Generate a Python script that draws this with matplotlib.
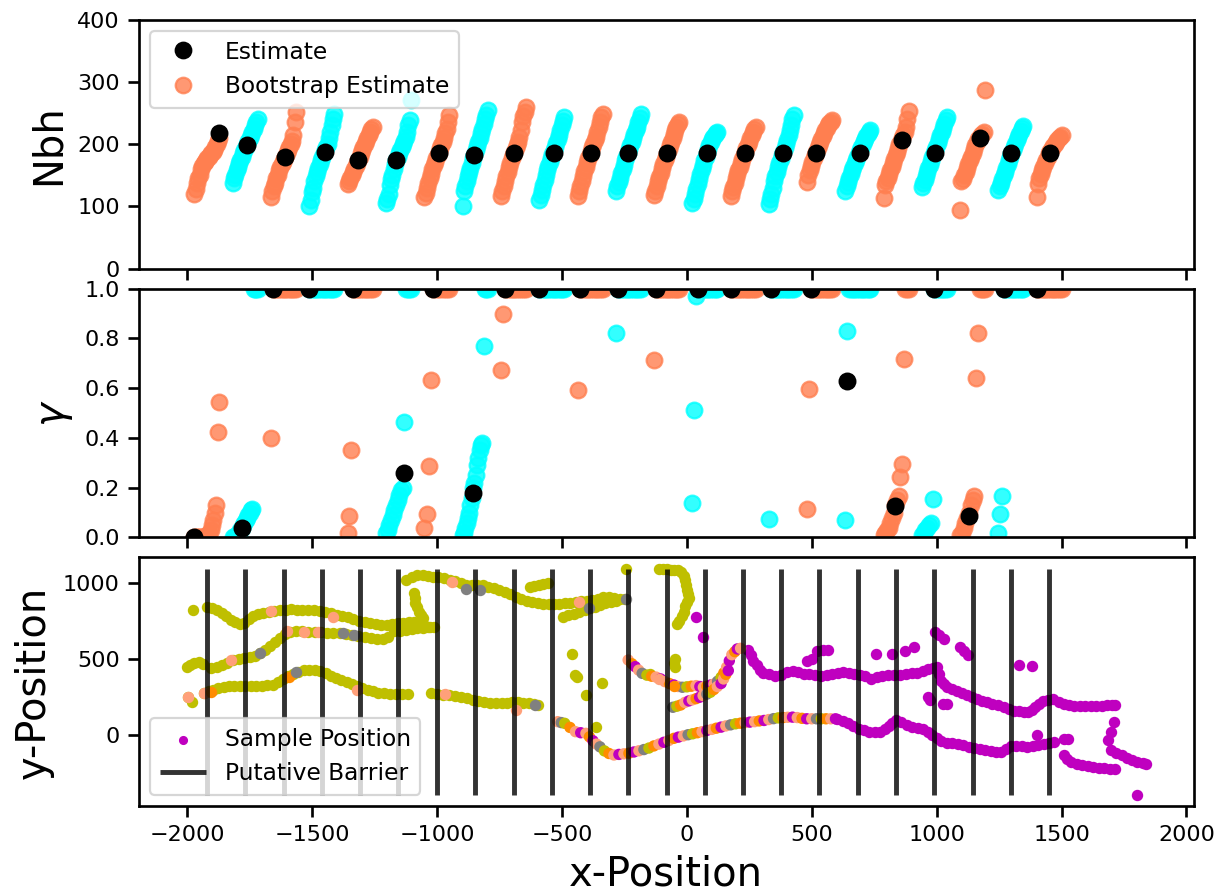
import matplotlib
matplotlib.use("Agg")
import matplotlib.pyplot as plt
import numpy as np
from matplotlib.lines import Line2D


CORAL = "coral"
CYAN = "cyan"
OLIVE = "y"
MAGENTA = "m"
MIXED_COLORS = ["lightsalmon", "darkorange", "m", "lightsalmon", "grey", "y", "darkorange", "lightsalmon", "m"]

# barrier x-positions along the transect
barriers = [-1922, -1769, -1615, -1462, -1308, -1155, -1001, -848, -694, -541, -387, -234,
            -81, 72, 225, 378, 531, 685, 838, 991, 1144, 1297, 1450]

nbh_est = [218, 198, 180, 187, 175, 175, 186, 182, 186, 186, 185, 186,
           186, 186, 186, 186, 186, 186, 206, 186, 210, 186, 186]
gamma_est = [0.0, 0.04, 1.0, 1.0, 1.0, 0.26, 1.0, 0.18, 1.0, 1.0, 1.0, 1.0,
             1.0, 1.0, 1.0, 1.0, 1.0, 0.63, 0.125, 1.0, 0.085, 1.0, 1.0]

nbh_boot = [
    [120, 128, 138, 145, 150, 160, 165, 170, 172, 175, 178, 180, 183, 185, 188, 190, 195, 200, 205, 210],
    [137, 145, 150, 158, 163, 170, 175, 180, 185, 190, 195, 200, 205, 210, 215, 220, 225, 230, 236, 241],
    [115, 125, 132, 138, 145, 150, 158, 163, 168, 172, 176, 180, 185, 190, 195, 200, 205, 214, 236, 252],
    [101, 110, 123, 130, 140, 148, 155, 162, 168, 175, 180, 185, 190, 195, 200, 210, 220, 230, 240, 249],
    [136, 140, 145, 150, 155, 160, 165, 170, 175, 180, 185, 190, 195, 200, 205, 210, 215, 220, 225, 228],
    [105, 112, 120, 135, 144, 150, 160, 168, 175, 180, 185, 190, 195, 200, 205, 212, 220, 230, 238, 271],
    [115, 122, 130, 138, 145, 152, 160, 166, 172, 178, 183, 188, 193, 198, 203, 210, 218, 225, 235, 246],
    [100, 125, 132, 140, 148, 155, 162, 170, 177, 183, 190, 197, 203, 210, 218, 225, 232, 240, 247, 255],
    [117, 125, 132, 140, 148, 155, 163, 170, 177, 183, 188, 193, 198, 204, 212, 222, 235, 245, 252, 260],
    [110, 118, 126, 134, 142, 150, 158, 165, 172, 178, 184, 190, 196, 202, 208, 215, 222, 230, 237, 244],
    [117, 125, 133, 141, 149, 157, 164, 171, 177, 183, 189, 195, 200, 206, 212, 220, 228, 236, 243, 249],
    [125, 132, 139, 146, 153, 160, 167, 174, 180, 186, 192, 198, 204, 210, 216, 222, 228, 235, 242, 249],
    [118, 125, 132, 140, 147, 154, 161, 168, 174, 180, 186, 192, 198, 204, 210, 216, 222, 228, 233, 236],
    [106, 112, 120, 128, 136, 144, 152, 160, 167, 174, 180, 186, 192, 198, 203, 208, 212, 215, 218, 220],
    [117, 124, 131, 138, 145, 152, 158, 164, 170, 176, 182, 188, 193, 198, 204, 210, 215, 220, 225, 228],
    [104, 112, 120, 130, 140, 148, 156, 163, 170, 176, 182, 188, 194, 200, 207, 214, 222, 230, 240, 247],
    [139, 150, 158, 165, 172, 178, 183, 188, 193, 198, 203, 208, 213, 218, 222, 226, 230, 234, 236, 238],
    [125, 132, 139, 146, 152, 158, 164, 170, 175, 180, 185, 190, 195, 200, 205, 209, 213, 217, 220, 222],
    [113, 134, 140, 146, 152, 158, 164, 170, 176, 182, 188, 194, 200, 205, 210, 215, 220, 228, 240, 253],
    [131, 137, 143, 149, 155, 161, 167, 173, 179, 185, 190, 196, 202, 208, 214, 220, 226, 232, 238, 244],
    [94, 140, 144, 150, 156, 162, 168, 174, 180, 186, 192, 198, 203, 208, 212, 215, 217, 220, 287],
    [126, 132, 138, 144, 150, 156, 162, 168, 174, 180, 186, 191, 196, 201, 206, 211, 216, 221, 226, 229],
    [115, 136, 145, 152, 158, 164, 170, 175, 180, 185, 189, 193, 197, 200, 204, 207, 210, 212, 214],
]

gamma_boot = [
    [0, 0, 0, 0, 0, 0, 0, 0, 0.005, 0.01, 0.02, 0.03, 0.05, 0.07, 0.10, 0.13, 0.425, 0.546],
    [0, 0, 0.005, 0.01, 0.015, 0.02, 0.03, 0.04, 0.05, 0.06, 0.07, 0.08, 0.09, 0.10, 0.11, 0.115, 1, 1, 1, 1],
    [0.40] + [1] * 14,
    [1] * 15,
    [0.02, 0.088, 0.35] + [1] * 12,
    [0.02, 0.03, 0.05, 0.07, 0.09, 0.11, 0.13, 0.15, 0.17, 0.19, 0.20, 0.465, 1, 1, 1, 1],
    [0.04, 0.094, 0.287, 0.633] + [1] * 8,
    [0.01, 0.02, 0.04, 0.06, 0.08, 0.10, 0.13, 0.16, 0.20, 0.22, 0.25, 0.29, 0.32, 0.35, 0.37, 0.38, 0.77, 1, 1, 1],
    [0.674, 0.896] + [1] * 12,
    [1] * 15,
    [0.593] + [1] * 14,
    [0.822] + [1] * 14,
    [0.714] + [1] * 14,
    [0.14, 0.512, 0.97] + [1] * 12,
    [1] * 15,
    [0.075] + [1] * 14,
    [0.113, 0.596] + [1] * 13,
    [0.071, 0.829] + [1] * 13,
    [0.01, 0.02, 0.03, 0.04, 0.06, 0.08, 0.10, 0.13, 0.15, 0.168, 0.243, 0.294, 0.717, 1, 1, 1],
    [0.01, 0.02, 0.03, 0.04, 0.05, 0.06, 0.155] + [1] * 8,
    [0.01, 0.02, 0.04, 0.06, 0.08, 0.10, 0.13, 0.15, 0.168, 0.64, 0.822, 1, 1, 1, 1],
    [0.02, 0.094, 0.168] + [1] * 12,
    [1] * 15,
]

# sample positions, one list per track
olive_upper = [
    (-1977, 825), (-1923, 842), (-1900, 836), (-1880, 826), (-1862, 808), (-1845, 787), (-1827, 762),
    (-1808, 745), (-1790, 735), (-1772, 742), (-1755, 765), (-1738, 785), (-1718, 797), (-1698, 805),
    (-1675, 812), (-1652, 818), (-1630, 824), (-1607, 828), (-1585, 830), (-1562, 828), (-1540, 826),
    (-1517, 824), (-1494, 822), (-1470, 818), (-1448, 812), (-1425, 804), (-1402, 795), (-1380, 786),
    (-1357, 776), (-1335, 766), (-1312, 755), (-1290, 745), (-1268, 737), (-1246, 731), (-1224, 727),
    (-1202, 725), (-1180, 730), (-1158, 737), (-1136, 742), (-1114, 746), (-1092, 744), (-1070, 730),
    (-1048, 718), (-1030, 713),
]
olive_middle = [
    (-2003, 447), (-1988, 463), (-1972, 477), (-1955, 484), (-1938, 470), (-1906, 440), (-1882, 452),
    (-1862, 463), (-1840, 478), (-1818, 492), (-1795, 500), (-1772, 506), (-1750, 513), (-1728, 522),
    (-1708, 540), (-1688, 560), (-1668, 585), (-1648, 612), (-1628, 640), (-1608, 668), (-1588, 680),
    (-1565, 686), (-1540, 685), (-1515, 683), (-1490, 681), (-1465, 678), (-1440, 675), (-1415, 673),
    (-1390, 671), (-1365, 667), (-1340, 661), (-1315, 655), (-1290, 648), (-1265, 642), (-1240, 636),
    (-1218, 631), (-1196, 650), (-1172, 684), (-1148, 688), (-1125, 692), (-1102, 698), (-1080, 704),
    (-1058, 709), (-1036, 712), (-1014, 711),
]
olive_lower = [
    (-1996, 253), (-1982, 220), (-1932, 279), (-1914, 289), (-1896, 298), (-1876, 308), (-1855, 316),
    (-1834, 322), (-1812, 323), (-1790, 323), (-1768, 322), (-1746, 324), (-1724, 323), (-1702, 325),
    (-1680, 327), (-1658, 331), (-1638, 350), (-1618, 372), (-1598, 390), (-1578, 404), (-1556, 416),
    (-1534, 426), (-1512, 429), (-1490, 426), (-1468, 420), (-1446, 408), (-1425, 390), (-1404, 374),
    (-1383, 360), (-1362, 348), (-1341, 337), (-1320, 325), (-1299, 312), (-1278, 300), (-1257, 289),
    (-1236, 280), (-1212, 274), (-1188, 272), (-1164, 271), (-1140, 271), (-1118, 271), (-1024, 275),
    (-1000, 271), (-976, 266), (-952, 261), (-928, 256), (-905, 251), (-882, 242), (-858, 232),
    (-835, 225), (-812, 217), (-790, 212), (-766, 210), (-742, 209), (-720, 214), (-700, 220),
    (-678, 217), (-656, 214), (-634, 210), (-614, 204), (-598, 198),
]
olive_top = [
    (-1123, 1023), (-1102, 1043), (-1080, 1056), (-1058, 1053), (-1037, 1049), (-1016, 1045), (-995, 1040),
    (-972, 1034), (-950, 1026), (-928, 1015), (-906, 1003), (-884, 991), (-862, 990), (-840, 990),
    (-818, 987), (-796, 980), (-774, 970), (-752, 958), (-730, 945), (-708, 930), (-686, 913),
    (-664, 896), (-642, 884), (-620, 876), (-598, 869), (-576, 866), (-554, 864), (-532, 865),
    (-510, 867), (-488, 869), (-466, 874), (-444, 878), (-422, 882), (-400, 887), (-378, 891),
    (-356, 899), (-334, 908), (-312, 911), (-290, 904), (-268, 897), (-246, 895),
    (-630, 974), (-612, 982), (-594, 990), (-576, 996), (-558, 1001),
    (-496, 781), (-474, 790), (-452, 800), (-430, 812), (-408, 826), (-388, 837), (-368, 847),
    (-348, 858), (-326, 868), (-305, 876), (-284, 884),
    (-1094, 935), (-1090, 902), (-1087, 870), (-1080, 842), (-1073, 815), (-1066, 792), (-1058, 770),
]
olive_scattered = [
    (-461, 535), (-446, 396), (-438, 380), (-404, 264), (-341, 341), (-362, 55), (-242, 1097),
    (-110, 1095), (-95, 1098), (-80, 1094), (-65, 1090), (-50, 1092), (-35, 1086), (-22, 1075),
    (-12, 1050), (-6, 1020), (-2, 990), (2, 960), (6, 930), (9, 905), (2, 880), (-6, 850),
    (-12, 815), (-20, 785), (-30, 755), (-38, 730), (-49, 502), (-52, 472), (-49, 447), (-149, 403),
]
magenta_upper = [
    (244, 561), (255, 525), (266, 491), (280, 460), (293, 432), (306, 412), (328, 400), (352, 392),
    (376, 398), (400, 415), (423, 425), (445, 415), (467, 405), (490, 400), (514, 395), (538, 392),
    (560, 398), (582, 403), (604, 410), (626, 414), (648, 410), (670, 404), (692, 398), (714, 387),
    (738, 372), (760, 380), (782, 390), (804, 393), (828, 396), (852, 398), (876, 402), (900, 406),
    (922, 412), (944, 425), (966, 436), (985, 443), (1002, 447), (1010, 400), (1017, 359), (1028, 335),
    (1040, 315), (1060, 303), (1081, 293), (1100, 280), (1120, 265), (1140, 250), (1160, 238),
    (1180, 225), (1200, 215), (1222, 205), (1245, 196), (1268, 185), (1290, 170), (1310, 161),
    (1330, 156), (1350, 152), (1367, 150), (1382, 165), (1395, 183), (1410, 205), (1424, 227),
    (1445, 234), (1467, 238), (1490, 220), (1510, 202), (1530, 195), (1552, 192), (1574, 190),
    (1596, 190), (1618, 192), (1640, 193), (1662, 194), (1684, 196), (1704, 200), (1716, 198),
]
magenta_lower = [
    (600, 107), (624, 95), (645, 78), (666, 60), (688, 42), (709, 30), (730, 23), (752, 20),
    (773, 20), (792, 40), (808, 62), (822, 82), (838, 96), (858, 84), (880, 64), (902, 55),
    (924, 47), (946, 38), (964, 18), (982, -3), (1000, -22), (1018, -42), (1040, -50), (1062, -55),
    (1084, -59), (1106, -68), (1128, -76), (1150, -85), (1172, -94), (1194, -102), (1216, -107),
    (1238, -111), (1258, -112), (1278, -93), (1298, -75), (1318, -70), (1340, -75), (1362, -79),
    (1384, -74), (1406, -63), (1428, -57), (1450, -51), (1470, -46), (1510, -135), (1524, -160),
    (1540, -180), (1562, -190), (1584, -198), (1606, -204), (1628, -210), (1650, -215), (1672, -219),
    (1694, -222), (1714, -224), (1700, -102), (1720, -120), (1742, -135), (1762, -150), (1782, -165),
    (1804, -178), (1826, -188), (1838, -192), (1710, 85), (1700, 19), (1688, -36), (1803, -399),
]
magenta_scattered = [
    (480, 491), (500, 500), (523, 557), (545, 558), (566, 561), (759, 535), (823, 535), (873, 557),
    (909, 579), (995, 678), (1010, 660), (1031, 634), (1095, 579), (1110, 555), (1124, 530),
    (1331, 462), (1381, 458), (966, 249), (975, 230), (1024, 205), (1040, 202), (1402, -3),
    (1510, -25), (1525, -28), (37, 781), (66, 649),
]
mixed_tracks = [
    (-235, 495), (-220, 470), (-207, 451), (-193, 428), (-179, 407), (-160, 395), (-141, 388),
    (-123, 382), (-105, 370), (-88, 352), (-70, 340), (-52, 330), (-35, 320), (-18, 315), (0, 318),
    (18, 322), (37, 326), (52, 320), (66, 315), (80, 322), (95, 330), (109, 337), (123, 355),
    (137, 381), (148, 410), (159, 447), (170, 490), (180, 530), (192, 550), (202, 568), (215, 572),
    (-56, 183), (-40, 190), (-25, 198), (-8, 215), (8, 225), (22, 232), (37, 240), (51, 249),
    (65, 260), (80, 270), (94, 282), (108, 300), (122, 320), (137, 340), (147, 370), (156, 400),
    (166, 425),
    (-517, 88), (-503, 82), (-489, 77), (-468, 50), (-446, 22), (-425, 15), (-404, 11), (-390, -12),
    (-376, -38), (-362, -60), (-348, -78), (-330, -105), (-312, -122), (-292, -132), (-272, -128),
    (-252, -124), (-232, -120), (-212, -112), (-192, -104), (-172, -96), (-152, -86), (-132, -72),
    (-112, -60), (-92, -48), (-72, -36), (-52, -22), (-34, -14), (-14, -6), (5, 2), (23, 8),
    (42, 15), (61, 22), (80, 30), (100, 37), (118, 45), (137, 52), (156, 60), (175, 67), (195, 74),
    (214, 78), (233, 82), (252, 85), (271, 88), (290, 93), (309, 96), (328, 102), (347, 108),
    (366, 113), (385, 115), (404, 117), (423, 118), (442, 115), (461, 110), (480, 107), (500, 107),
    (519, 107), (538, 107), (557, 107), (576, 107), (595, 107),
]
salmon_spots = [
    (-1996, 253), (-1932, 279), (-1827, 495), (-1601, 686), (-1531, 682), (-1475, 682), (-1665, 818),
    (-1418, 781), (-1320, 297), (-968, 271), (-686, 165), (-939, 1012), (-432, 880), (-113, 370),
]
orange_spots = [(-1904, 286), (-1594, 385), (-53, 326)]
grey_spots = [
    (-1711, 543), (-1566, 418), (-1376, 671), (-1334, 660), (-883, 961), (-827, 957), (-608, 198),
    (-390, 836), (-242, 895),
]


def spread(center, values, width=100):
    values = np.sort(values)
    offsets = np.linspace(-width / 2, width / 2, len(values))
    return center + offsets, values


def rank_x(center, values, estimate, width=100):
    values = np.sort(values)
    k = np.searchsorted(values, estimate)
    frac = min(k / (len(values) - 1), 1.0)
    return center - width / 2 + width * frac


def xy(points):
    arr = np.array(points, dtype=float)
    return arr[:, 0], arr[:, 1]


def draw_bootstrap(axis, boot, est, size=50):
    for i, (b, vals) in enumerate(zip(barriers, boot)):
        x, y = spread(b, vals)
        axis.scatter(x, y, s=size, color=CORAL if i % 2 == 0 else CYAN, alpha=0.8, zorder=2)
    ex = [rank_x(b, vals, e) for b, vals, e in zip(barriers, boot, est)]
    axis.scatter(ex, est, s=size, color="k", zorder=3)


plt.rcParams.update({"font.family": "DejaVu Sans", "font.size": 10, "legend.fontsize": 10.5})

fig, axes = plt.subplots(3, 1, sharex=True, figsize=(1227 / 160, 893 / 160), dpi=160)
fig.subplots_adjust(left=0.113, right=0.973, top=0.978, bottom=0.097, hspace=0.08)
for axis in axes:
    for spine in axis.spines.values():
        spine.set_linewidth(1.2)
    axis.tick_params(width=1.2, length=5)

axis = axes[0]
draw_bootstrap(axis, nbh_boot, nbh_est)
axis.set_ylim(0, 400)
axis.set_ylabel("Nbh", fontsize=18)
handles = [
    Line2D([], [], linestyle="none", marker="o", markersize=7, color="k", label="Estimate"),
    Line2D([], [], linestyle="none", marker="o", markersize=7, color=CORAL, alpha=0.8, label="Bootstrap Estimate"),
]
axis.legend(handles=handles, loc="upper left")

axis = axes[1]
draw_bootstrap(axis, gamma_boot, gamma_est)
axis.set_ylim(0, 1)
axis.set_ylabel(r"$\gamma$", fontsize=18)

axis = axes[2]
dot = 17
mx, my = xy(magenta_upper)
axis.scatter(mx, my, s=dot, color=MAGENTA, label="Sample Position", zorder=2)
for track in (magenta_lower, magenta_scattered):
    x, y = xy(track)
    axis.scatter(x, y, s=dot, color=MAGENTA, zorder=2)
for track in (olive_upper, olive_middle, olive_lower, olive_top, olive_scattered):
    x, y = xy(track)
    axis.scatter(x, y, s=dot, color=OLIVE, zorder=2)
x, y = xy(mixed_tracks)
colors = [MIXED_COLORS[i % len(MIXED_COLORS)] for i in range(len(x))]
axis.scatter(x, y, s=dot, c=colors, zorder=2)
for track, color in ((salmon_spots, "lightsalmon"), (orange_spots, "darkorange"), (grey_spots, "grey")):
    x, y = xy(track)
    axis.scatter(x, y, s=dot, color=color, zorder=2)

all_y = np.concatenate([xy(t)[1] for t in (olive_upper, olive_middle, olive_lower, olive_top, olive_scattered,
                                              magenta_upper, magenta_lower, magenta_scattered, mixed_tracks)])
axis.vlines(barriers, all_y.min(), all_y.max(), colors="k", alpha=0.8, linewidth=2.2,
            label="Putative Barrier", zorder=3)
axis.set_xlim(-2195, 2030)
axis.set_ylim(-471, 1172)
axis.set_xlabel("x-Position", fontsize=18)
axis.set_ylabel("y-Position", fontsize=18)
axis.legend(loc="lower left", markerscale=0.75)

fig.savefig("out.png", dpi=160)
